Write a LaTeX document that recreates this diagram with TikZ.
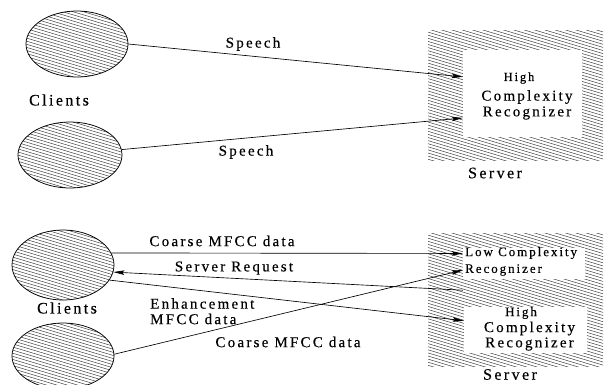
\documentclass[tikz,border=0pt]{standalone}
\usepackage{fontspec}
\setmainfont{Liberation Serif}[LetterSpace=15, FakeBold=0.3]
\usetikzlibrary{shapes.geometric,arrows.meta,calc}

\tikzset{
  hatch/.style={path picture={
    \foreach \k in {-34,...,42}{
      \draw[black!80, line width=0.45pt]
        ($(path picture bounding box.north west)+(-100,\k*3.1)$) -- ++(400,120);
    }}},
  client/.style={ellipse, draw, line width=0.75pt, inner sep=0pt,
    minimum width=102pt, minimum height=66pt, hatch},
  srvbox/.style={rectangle, inner sep=0pt, hatch},
  blank/.style={rectangle, fill=white, inner sep=0pt},
  big/.style={inner sep=0pt, font=\fontsize{16}{18}\selectfont},
  lbl/.style={inner sep=0pt, font=\fontsize{15}{17}\selectfont},
  small/.style={inner sep=0pt, font=\fontsize{13}{15}\selectfont},
  tiny/.style={inner sep=0pt, font=\fontsize{12.5}{14}\selectfont},
  msg/.style={-{Stealth[length=11pt,width=4.5pt,inset=2pt]}, line width=0.65pt}
}

\begin{document}
\begin{tikzpicture}[x=1pt,y=-1pt]
\useasboundingbox (0,0) rectangle (605,384);

% ---- speech recognition on the server ----
\node[client] (c1) at (77,44) {};
\node[client, minimum width=104pt] (c2) at (70,155) {};
\node[big] (cl1) at (59,100) {Clients};

\node[srvbox, minimum width=175pt, minimum height=130pt] (s1) at (515.5,95) {};
\node[blank, minimum width=119pt, minimum height=87pt] (h1) at (522.5,93.5) {};
\node[tiny] (h1a) at (519,78) {High};
\node[lbl] (h1b) at (527,97) {Complexity};
\node[lbl] (h1c) at (527,113) {Recognizer};
\node[big] (sv1) at (495,173) {Server};

\draw[msg] (c1.east) -- ($(h1.north west)!0.31!(h1.south west)$);
\draw[msg] (c2.6) -- ($(h1.north west)!0.78!(h1.south west)$);
\node[lbl] (sp1) at (253,44) {Speech};
\node[lbl] (sp2) at (246,152) {Speech};

% ---- distributed recognition with MFCC data ----
\node[client, minimum height=70pt] (c3) at (63,265) {};
\node[client] (c4) at (63,356) {};
\node[big] (cl2) at (67,308) {Clients};

\node[srvbox, minimum width=175pt, minimum height=133pt] (s2) at (515.5,299.5) {};
\node[blank, minimum width=122pt, minimum height=31pt] (lo) at (524,263.5) {};
\node[blank, minimum width=123pt, minimum height=46pt] (h2) at (525.5,330) {};
\node[small, anchor=west] (loa) at (465,253) {Low Complexity};
\node[small, anchor=west] (lob) at (465,270) {Recognizer};
\node[small] (h2a) at (521,313) {High};
\node[lbl] (h2b) at (529.5,328.5) {Complexity};
\node[lbl] (h2c) at (529.5,344) {Recognizer};
\node[big] (sv2) at (510,374.5) {Server};

\coordinate (req) at ($(lo.south west)+(0,11)$);
\draw[msg] (c3.14) -- ($(lo.north west)!0.18!(lo.south west)$);
\draw[msg] (req) -- (c3.-8);
\draw[msg] (c3.-18) -- ($(h2.north west)!0.3!(h2.south west)$);
\draw[msg] (c4.2) -- ($(lo.north west)!0.71!(lo.south west)$);

\node[lbl] (m1) at (222,241) {Coarse MFCC data};
\node[lbl] (m2) at (234,268) {Server Request};
\node[lbl, anchor=west] (m3) at (150,303.5) {Enhancement};
\node[lbl, anchor=west] (m4) at (150,319) {MFCC data};
\node[lbl] (m5) at (288,342) {Coarse MFCC data};
\end{tikzpicture}
\end{document}
